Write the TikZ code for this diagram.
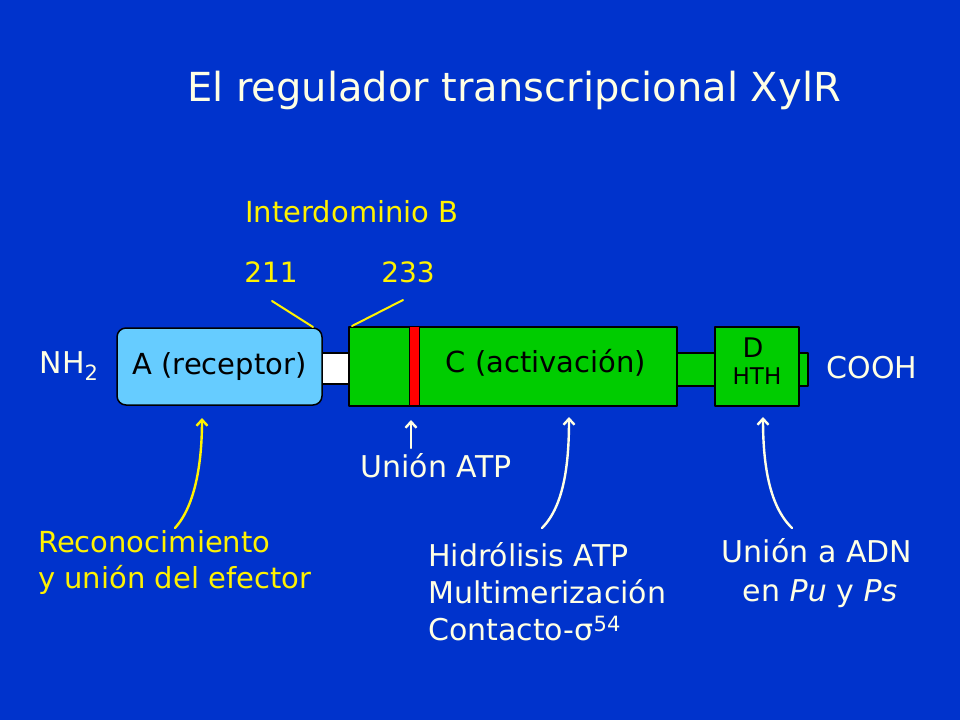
\documentclass[tikz,border=0pt]{standalone}
\usepackage{fontspec}
\setmainfont{DejaVu Sans}
\usetikzlibrary{arrows.meta}
\definecolor{slideblue}{RGB}{0,51,204}
\definecolor{domblue}{RGB}{102,204,255}
\definecolor{domgreen}{RGB}{0,204,0}
\definecolor{chalk}{RGB}{255,255,228}
\begin{document}
\begin{tikzpicture}[x=1pt, y=-1pt, >={Straight Barb[length=6pt,width=11pt]}, line join=round, line cap=round,
  domainbox/.style={draw=black, line width=1.5pt, inner sep=0pt, font=\fontsize{29}{32}\selectfont},
  linker/.style={draw=black, line width=1.5pt, inner sep=0pt},
  chalktxt/.style={text=chalk, font=\fontsize{30}{36}\selectfont, inner sep=0pt},
  yeltxt/.style={text=yellow, font=\fontsize{29}{36}\selectfont, inner sep=0pt},
  pointer/.style={->, line width=2.4pt}]
	\fill[slideblue] (0,0) rectangle (960,720);
	\useasboundingbox (0,0) rectangle (960,720);
	% Titulo
	\node[chalktxt, font=\fontsize{40}{44}\selectfont] (title) at (514,90) {El regulador transcripcional XylR};
	\node[yeltxt] (interB) at (352,212) {Interdominio B};
	\node[yeltxt, font=\fontsize{28}{32}\selectfont] (n211) at (271,272) {211};
	\node[yeltxt, font=\fontsize{28}{32}\selectfont] (n233) at (408,272) {233};
	% Conectores y dominios
	\node[linker, fill=white, minimum width=27pt, minimum height=31pt] (linkAB) at (335.5,368.5) {};
	\node[linker, fill=domgreen, minimum width=38pt, minimum height=33pt] (linkCD) at (696,369.5) {};
	\node[linker, fill=domgreen, minimum width=9pt, minimum height=33pt] (tail) at (803.5,369.5) {};
	\node[domainbox, fill=domblue, rounded corners=9pt, minimum width=205pt, minimum height=77pt] (boxA) at (219.5,366.5) {A (receptor)};
	\node[domainbox, fill=domgreen, minimum width=328pt, minimum height=79pt] (boxC) at (513,366.5) {};
	\node[linker, fill=red, line width=1pt, minimum width=10pt, minimum height=79pt] (walker) at (414,366) {};
	\node[domainbox, draw=none] (labC) at (546,363) {C (activación)};
	\node[domainbox, fill=domgreen, minimum width=84pt, minimum height=79pt] (boxD) at (757,366.5) {};
	\node[font=\fontsize{27}{30}\selectfont, inner sep=0pt] (labD) at (753,348) {D};
	\node[font=\fontsize{23}{26}\selectfont, inner sep=0pt] (labHTH) at (757,376) {HTH};
	\node[chalktxt] (nterm) at (69,366) {NH\textsubscript{2}};
	\node[chalktxt] (cterm) at (872,368) {COOH};
	% Lineas del interdominio
	\coordinate (endB1) at (313,327);
	\coordinate (endB2) at (352,326);
	\draw[yellow, line width=2pt] (272,301) -- (endB1);
	\draw[yellow, line width=2pt] (403,300) -- (endB2);
	% Funciones
	\node[yeltxt, anchor=west, align=left] (efector) at (38,562) {Reconocimiento\\y unión del efector};
	\node[chalktxt] (atp) at (436,466) {Unión ATP};
	\node[chalktxt, anchor=west, align=left, font=\fontsize{30}{37}\selectfont] (hidro) at (428,592) {Hidrólisis ATP\\Multimerización\\Contacto-σ\textsuperscript{54}};
	\node[chalktxt, align=center, font=\fontsize{30}{39}\selectfont] (adn) at (817,573) {Unión a ADN\\ \hspace{6pt}en \textit{Pu} y \textit{Ps}};
	\coordinate (tipA) at (202,418);
	\coordinate (tipATP) at (411,420);
	\coordinate (tipC) at (569,417);
	\coordinate (tipD) at (763,417);
	\draw[pointer, yellow] (175,528) .. controls (196,505) and (202,460) .. (tipA);
	\draw[pointer, chalk] (411,448) -- (tipATP);
	\draw[pointer, chalk] (542,528) .. controls (565,505) and (569,460) .. (tipC);
	\draw[pointer, chalk] (792,528) .. controls (768,505) and (763,460) .. (tipD);
\end{tikzpicture}
\end{document}
